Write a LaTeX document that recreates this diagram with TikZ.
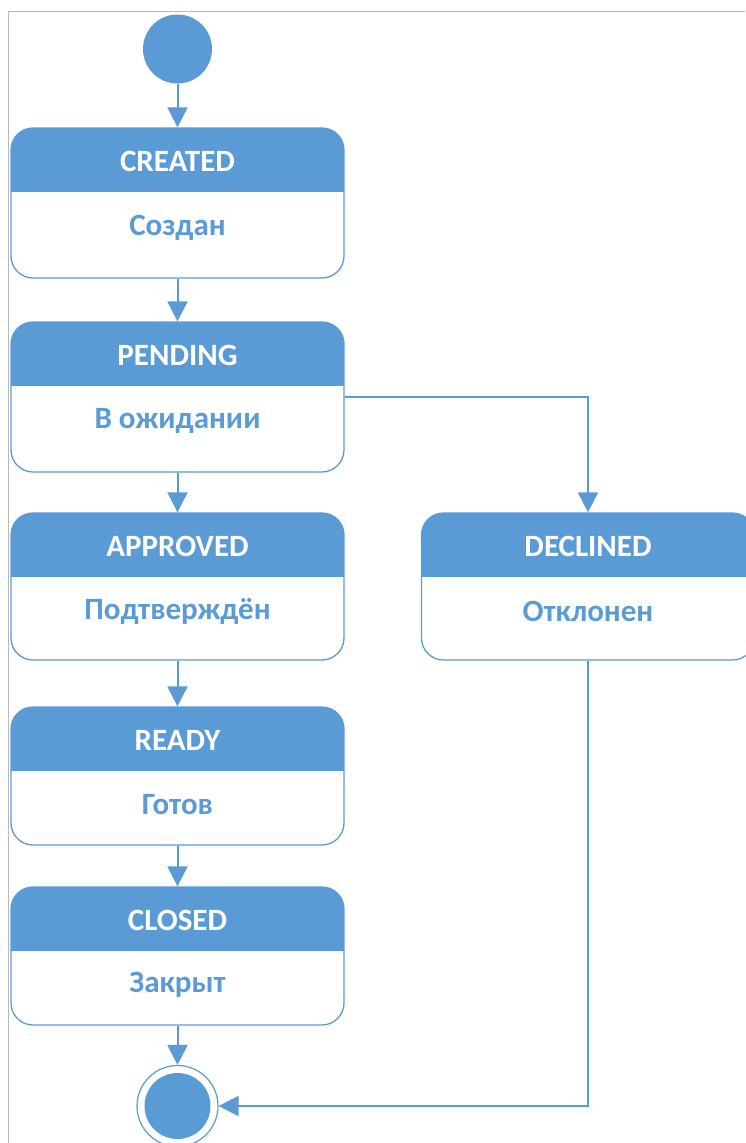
\documentclass[tikz,border=0pt]{standalone}
\usepackage{fontspec}
\setmainfont{Carlito}
\usetikzlibrary{arrows.meta}
\definecolor{umlblue}{HTML}{5B9BD5}

\begin{document}
\begin{tikzpicture}[x=1pt, y=-1pt,
    state_box/.style = {draw=umlblue, line width=1.3pt, rounded corners=22pt,
        minimum width=333pt, inner sep=0pt,
        path picture={\fill[umlblue, sharp corners] (path picture bounding box.north west)
            rectangle ([yshift=-64pt]path picture bounding box.north east);}},
    head_text/.style = {text=white, font=\fontsize{31}{36}\selectfont\bfseries},
    body_text/.style = {text=umlblue, font=\fontsize{31}{36}\selectfont\bfseries},
    flow/.style = {draw=umlblue, line width=2pt, -{Triangle[length=20pt, width=20pt]}}]

\useasboundingbox (0,0) rectangle (745,1143);
\draw[gray!55, line width=0.8pt] (8,1143) -- (8,11) -- (745,11);

% initial and final states
\node[circle, fill=umlblue, minimum size=69pt, inner sep=0pt] (start) at (177.5,49) {};
\node[circle, draw=umlblue, line width=1.2pt, minimum size=81pt, inner sep=0pt] (end) at (177.5,1106) {};
\node[circle, fill=umlblue, minimum size=66pt, inner sep=0pt] (end_dot) at (end) {};

% states
\node[state_box, minimum height=150pt] (created) at (177.5,203) {};
\node[head_text] (created_head) at ([yshift=-34pt]created.north) {CREATED};
\node[body_text] (created_body) at ([yshift=-100pt]created.north) {Создан};

\node[state_box, minimum height=150pt] (pending) at (177.5,397) {};
\node[head_text] (pending_head) at ([yshift=-34pt]pending.north) {PENDING};
\node[body_text] (pending_body) at ([yshift=-100pt]pending.north) {В ожидании};

\node[state_box, minimum height=147pt] (approved) at (177.5,586.5) {};
\node[head_text] (approved_head) at ([yshift=-34pt]approved.north) {APPROVED};
\node[body_text] (approved_body) at ([yshift=-99pt]approved.north) {Подтверждён};

\node[state_box, minimum height=147pt] (declined) at (588,586.5) {};
\node[head_text] (declined_head) at ([yshift=-34pt]declined.north) {DECLINED};
\node[body_text] (declined_body) at ([yshift=-99pt]declined.north) {Отклонен};

\node[state_box, minimum height=138pt] (ready) at (177.5,776) {};
\node[head_text] (ready_head) at ([yshift=-34pt]ready.north) {READY};
\node[body_text] (ready_body) at ([yshift=-98pt]ready.north) {Готов};

\node[state_box, minimum height=138pt] (closed) at (177.5,956) {};
\node[head_text] (closed_head) at ([yshift=-34pt]closed.north) {CLOSED};
\node[body_text] (closed_body) at ([yshift=-98pt]closed.north) {Закрыт};

% main flow
\draw[flow] (start) -- (created);
\draw[flow] (created) -- (pending);
\draw[flow] (pending) -- (approved);
\draw[flow] (approved) -- (ready);
\draw[flow] (ready) -- (closed);
\draw[flow] (closed) -- (end);

% declined branch
\draw[flow] (pending.east) -| (declined.north);
\draw[flow] (declined.south) |- (end.east);

\end{tikzpicture}
\end{document}
